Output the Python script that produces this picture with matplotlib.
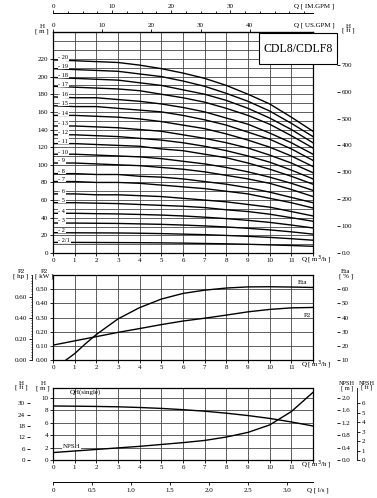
import numpy as np
import matplotlib.pyplot as plt
from matplotlib.patches import Rectangle
from matplotlib.ticker import MultipleLocator

plt.rcParams['font.family'] = ['Liberation Serif', 'DejaVu Serif']

# flow points, m3/h
q = [0, 1, 2, 3, 4, 5, 6, 7, 8, 9, 10, 11, 12]

# head curves per stage count, m
h20 = [219, 218, 217, 216, 213, 209, 204, 198, 190, 180, 169, 154, 138]
h19 = [209, 208, 207, 206, 203, 200, 195, 189, 181, 172, 161, 147, 132]
h18 = [199, 198, 197, 196, 193, 190, 185, 180, 173, 164, 153, 140, 125]
h17 = [189, 188, 187, 186, 184, 180, 176, 171, 164, 156, 146, 133, 119]
h16 = [177, 176, 176, 174, 172, 169, 165, 160, 153, 146, 136, 125, 112]
h15 = [167, 166, 166, 164, 162, 160, 156, 151, 145, 137, 129, 118, 105]
h14 = [156, 156, 155, 154, 152, 149, 145, 141, 135, 128, 120, 110, 98]
h13 = [144, 144, 143, 142, 140, 138, 134, 130, 125, 119, 111, 102, 91]
h12 = [134, 134, 133, 132, 130, 128, 125, 121, 116, 110, 103, 94, 84]
h11 = [124, 124, 123, 122, 121, 118, 116, 112, 108, 102, 95, 87, 78]
h10 = [112, 112, 111, 110, 109, 107, 104, 101, 97, 92, 86, 79, 71]
h9 = [102, 102, 101, 100, 99, 97, 95, 92, 88, 84, 79, 72, 64]
h8 = [90, 90, 89, 89, 87, 86, 84, 81, 78, 74, 69, 63, 57]
h7 = [81, 81, 80, 80, 79, 77, 75, 73, 70, 67, 62, 57, 51]
h6 = [67, 67, 66, 66, 65, 64, 62, 60, 58, 55, 52, 47, 42]
h5 = [57, 57, 56.5, 56, 55, 54, 53, 51.5, 49, 47, 44, 40, 36]
h4 = [45, 45, 44.6, 44.3, 43.7, 43, 42, 40.6, 39, 37, 34.7, 31.7, 28.4]
h3 = [34, 33.9, 33.7, 33.5, 33, 32.5, 31.7, 30.7, 29.5, 28, 26.2, 24, 21.4]
h2 = [23, 22.9, 22.8, 22.7, 22.4, 22, 21.4, 20.8, 19.9, 18.9, 17.7, 16.2, 14.5]
h2_1 = [12, 12, 11.9, 11.8, 11.7, 11.5, 11.2, 10.8, 10.4, 9.9, 9.2, 8.5, 7.6]

stage_names = ['20', '19', '18', '17', '16', '15', '14', '13', '12', '11',
               '10', '9', '8', '7', '6', '5', '4', '3', '2', '2/1']
stage_heads = [h20, h19, h18, h17, h16, h15, h14, h13, h12, h11,
               h10, h9, h8, h7, h6, h5, h4, h3, h2, h2_1]

# power and efficiency
p2_kw = [0.105, 0.135, 0.165, 0.195, 0.222, 0.25, 0.275, 0.295, 0.317, 0.340, 0.357, 0.368, 0.371]
eta_q = [0.6, 1, 1.5, 2, 3, 4, 5, 6, 7, 8, 9, 10, 11, 12]
eta_pct = [10, 14.5, 21.5, 28, 39, 47, 53, 57, 59.3, 60.8, 61.6, 61.7, 61.5, 61.2]

# single stage head and NPSH
qh_single = [8.7, 8.67, 8.63, 8.57, 8.46, 8.31, 8.11, 7.86, 7.54, 7.16, 6.70, 6.13, 5.48]
npsh_m = [0.24, 0.29, 0.34, 0.39, 0.44, 0.50, 0.56, 0.63, 0.74, 0.89, 1.13, 1.56, 2.18]

FS = 5
W, H = 377, 498


def fx(px):
    return px / W


def fy(py):
    return 1 - py / H


def style(ax):
    ax.set_xlim(0, 12)
    ax.set_xticks(range(13))
    ax.set_xticklabels([str(i) for i in range(12)] + [''])
    ax.tick_params(labelsize=FS, length=2, pad=1.5, width=0.6)
    for s in ax.spines.values():
        s.set_linewidth(0.9)
    ax.grid(True, which='both', color='#444444', lw=0.6)
    ax.set_axisbelow(True)


def outer_y(ax, side, off_px, lim, ticks, labels, show_spine=False):
    t = ax.twinx()
    t.spines[side].set_position(('outward', off_px * 0.72))
    for s in ['left', 'right', 'top', 'bottom']:
        t.spines[s].set_visible(False)
    if show_spine:
        t.spines[side].set_visible(True)
        t.spines[side].set_linewidth(0.6)
    t.yaxis.set_ticks_position(side)
    t.yaxis.set_label_position(side)
    t.set_ylim(*lim)
    t.set_yticks(ticks)
    t.set_yticklabels(labels)
    t.tick_params(labelsize=FS, length=2.5, pad=1, width=0.6)
    return t


fig = plt.figure(figsize=(W / 100, H / 100), dpi=100)

# ---------------- top: QH curves ----------------
ax1 = fig.add_axes([fx(53), fy(253), fx(260), (253 - 32.5) / H])
style(ax1)
ax1.set_ylim(0, 250)
ax1.set_yticks(range(0, 230, 20))
ax1.yaxis.set_minor_locator(MultipleLocator(10))
ax1.tick_params(axis='y', which='minor', length=0)
for name, hs in zip(stage_names, stage_heads):
    ax1.plot(q, hs, color='black', lw=1.0)
    ax1.text(0.25, hs[0] + 2.5, '- ' + name, fontsize=4.5, va='center', ha='left',
             bbox=dict(facecolor='white', edgecolor='none', pad=0.3))

outer_y(ax1, 'right', 24, (0, 250 / 0.3048), range(0, 800, 100),
        ['0.0'] + [str(v) for v in range(100, 800, 100)])

us = ax1.secondary_xaxis('top', functions=(lambda x: x * 4.403, lambda g: g / 4.403))
us.set_xticks([0, 10, 20, 30, 40])
us.tick_params(labelsize=FS, length=2, pad=1, width=0.6)

im = ax1.secondary_xaxis(1.088, functions=(lambda x: x * 3.666, lambda g: g / 3.666))
im.set_xticks([0, 10, 20, 30])
im.xaxis.set_minor_locator(MultipleLocator(2.5))
im.tick_params(labelsize=FS, length=2, pad=1, width=0.6)
im.tick_params(which='minor', length=1.5, width=0.6)
im.spines['top'].set_linewidth(0.7)

fig.text(fx(314), fy(6), 'Q [ IM.GPM ]', fontsize=FS, ha='center', va='center')
fig.text(fx(314), fy(25), 'Q [ US.GPM ]', fontsize=FS, ha='center', va='center')
fig.text(fx(316), fy(260), 'Q [ m$^3$/h ]', fontsize=FS, ha='center', va='center')
fig.text(fx(42), fy(29), 'H\n[ m ]', fontsize=FS, ha='center', va='center', linespacing=0.9)
fig.text(fx(348), fy(29), 'H\n[ ft ]', fontsize=FS, ha='center', va='center', linespacing=0.9)

fig.add_artist(Rectangle((fx(259), fy(64)), fx(78), 31 / H, transform=fig.transFigure,
                         facecolor='white', edgecolor='black', lw=0.8, zorder=10))
fig.text(fx(298), fy(48.5), 'CDL8/CDLF8', fontsize=8.5, ha='center', va='center', zorder=11)

# ---------------- middle: P2 and Eta ----------------
ax2 = fig.add_axes([fx(53), fy(360), fx(260), (360 - 275) / H])
style(ax2)
ax2.set_ylim(0, 0.6)
ax2.set_yticks(np.arange(0, 0.6, 0.1))
ax2.set_yticklabels(['0.00', '0.10', '0.20', '0.30', '0.40', '0.50'])
ax2.plot(q, p2_kw, color='black', lw=1.0)
ax2.text(11.75, 0.315, 'P2', fontsize=FS, ha='center', va='center')

eta_ax = outer_y(ax2, 'right', 24, (10, 70), range(10, 70, 10),
                 [str(v) for v in range(10, 70, 10)])
eta_ax.plot(eta_q, eta_pct, color='black', lw=1.0)
eta_ax.text(11.5, 65, 'Eta', fontsize=FS, ha='center', va='center')

hp = outer_y(ax2, 'left', 21, (0, 0.6 / 0.7457), [0, 0.2, 0.4, 0.6],
             ['0.00', '0.20', '0.40', '0.60'], show_spine=True)
hp.yaxis.set_minor_locator(MultipleLocator(0.025))
hp.tick_params(which='minor', length=1, width=0.5)

fig.text(fx(316), fy(365), 'Q [ m$^3$/h ]', fontsize=FS, ha='center', va='center')
fig.text(fx(21), fy(274), 'P2\n[ hp ]', fontsize=FS, ha='center', va='center', linespacing=0.9)
fig.text(fx(44), fy(274), 'P2\n[ kW ]', fontsize=FS, ha='center', va='center', linespacing=0.9)
fig.text(fx(346), fy(274), 'Eta\n[ % ]', fontsize=FS, ha='center', va='center', linespacing=0.9)

# ---------------- bottom: single stage QH and NPSH ----------------
ax3 = fig.add_axes([fx(53), fy(460), fx(260), (460 - 388) / H])
style(ax3)
ax3.set_ylim(0, 11.6)
ax3.set_yticks(range(0, 12, 2))
ax3.plot(q, qh_single, color='black', lw=1.0)
ax3.text(0.75, 11.0, 'QH(single)', fontsize=FS, ha='left', va='center')

outer_y(ax3, 'left', 23, (0, 11.6 / 0.3048), range(0, 31, 6),
        [str(v) for v in range(0, 31, 6)])
npsh_ax = outer_y(ax3, 'right', 24, (0, 11.6 * 0.2), [0, 0.4, 0.8, 1.2, 1.6, 2.0],
                  ['0.0', '0.4', '0.8', '1.2', '1.6', '2.0'])
npsh_ax.plot(q, npsh_m, color='black', lw=1.0)
ax3.text(0.45, 2.1, 'NPSH', fontsize=FS, ha='left', va='center',
         bbox=dict(facecolor='white', edgecolor='none', pad=0.3))
outer_y(ax3, 'right', 44, (0, 11.6 * 0.2 / 0.3048), range(0, 7),
        [str(v) for v in range(0, 7)], show_spine=True)

ls = ax3.secondary_xaxis(-0.306, functions=(lambda x: x / 3.6, lambda v: v * 3.6))
ls.set_xticks([0, 0.5, 1.0, 1.5, 2.0, 2.5, 3.0])
ls.set_xticklabels(['0', '0.5', '1.0', '1.5', '2.0', '2.5', '3.0'])
ls.tick_params(labelsize=FS, length=2, pad=2, width=0.6)
ls.spines['bottom'].set_linewidth(0.7)

fig.text(fx(316), fy(465), 'Q [ m$^3$/h ]', fontsize=FS, ha='center', va='center')
fig.text(fx(318), fy(490), 'Q [ l/s ]', fontsize=FS, ha='center', va='center')
fig.text(fx(21), fy(386), 'H\n[ ft ]', fontsize=FS, ha='center', va='center', linespacing=0.9)
fig.text(fx(43), fy(386), 'H\n[ m ]', fontsize=FS, ha='center', va='center', linespacing=0.9)
fig.text(fx(347), fy(386), 'NPSH\n[ m ]', fontsize=4.5, ha='center', va='center', linespacing=0.9)
fig.text(fx(367), fy(386), 'NPSH\n[ ft ]', fontsize=4.5, ha='center', va='center', linespacing=0.9)

fig.savefig('out.png', dpi=100)
